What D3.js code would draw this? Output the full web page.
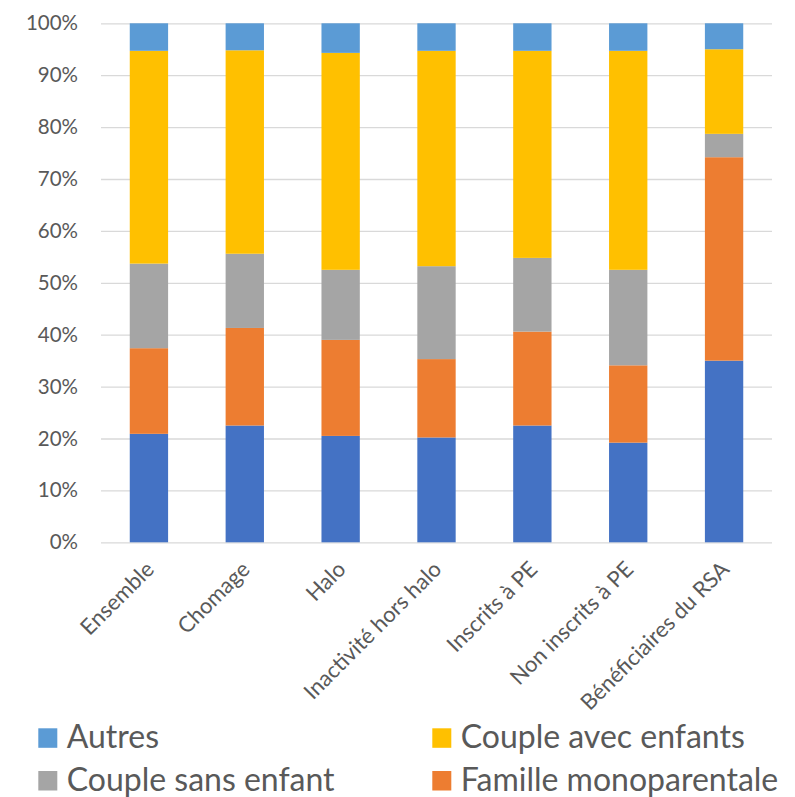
<!DOCTYPE html>
<html>
<head>
<meta charset="utf-8">
<script src="https://cdn.jsdelivr.net/npm/d3@7"></script>
<style>
  html, body { margin: 0; padding: 0; background: #fff; }
  svg { display: block; font-family: Lato, "Open Sans", sans-serif; }
</style>
</head>
<body>
<svg id="chart" width="795" height="797"></svg>
<script>
const categories = ["Ensemble", "Chomage", "Halo", "Inactivité hors halo", "Inscrits à PE", "Non inscrits à PE", "Bénéficiaires du RSA"];

// stacked bottom -> top, in %
const personneSeule = [20.9, 22.5, 20.5, 20.2, 22.5, 19.2, 35.0];
const familleMono = [16.5, 18.8, 18.5, 15.1, 18.1, 14.9, 39.2];
const coupleSansEnfant = [16.3, 14.3, 13.5, 17.9, 14.2, 18.4, 4.5];
const coupleAvecEnfants = [41.0, 39.2, 41.8, 41.5, 39.9, 42.2, 16.3];
const autres = [5.3, 5.2, 5.7, 5.3, 5.3, 5.3, 5.0];

const seriesNames = ["Personne seule", "Famille monoparentale", "Couple sans enfant", "Couple avec enfants", "Autres"];
const seriesValues = [personneSeule, familleMono, coupleSansEnfant, coupleAvecEnfants, autres];
const seriesColors = ["#4472C4", "#ED7D31", "#A5A5A5", "#FFC000", "#5B9BD5"];

const yTicks = [0, 10, 20, 30, 40, 50, 60, 70, 80, 90, 100];

// legend as shown (two columns, reading order)
const legendItems = ["Autres", "Couple avec enfants", "Couple sans enfant", "Famille monoparentale"];

const svg = d3.select("#chart");
const margin = { top: 23.3, left: 101, right: 23, bottom: 797 - 542.3 };
const width = 795 - margin.left - margin.right;
const height = 797 - margin.top - margin.bottom;

const textColor = "#595959";
const gridColor = "#D9D9D9";

const table = categories.map((c, i) => {
    const row = { cat: c };
    seriesNames.forEach((s, k) => (row[s] = seriesValues[k][i]));
    return row;
});

const stack = d3.stack().keys(seriesNames);
const stacked = stack(table);

const x = d3.scaleBand()
    .domain(categories)
    .range([margin.left, margin.left + width])
    .paddingInner(0.6)
    .paddingOuter(0.3);

const y = d3.scaleLinear()
    .domain([0, 100])
    .range([margin.top + height, margin.top]);

// grid + y labels
const yAxis = d3.axisLeft(y)
    .tickValues(yTicks)
    .tickSize(-width)
    .tickPadding(23)
    .tickFormat((d) => d + "%");

svg.append("g")
    .attr("transform", `translate(${margin.left}, 0)`)
    .call(yAxis)
    .call((g) => g.select(".domain").remove())
    .call((g) => g.selectAll(".tick line")
        .attr("stroke", gridColor)
        .attr("stroke-width", 1.3))
    .call((g) => g.selectAll(".tick text")
        .attr("fill", textColor)
        .style("font-size", "20.5px")
        .style("font-family", "Lato, sans-serif"));

// bars
svg.append("g")
    .selectAll("g")
    .data(stacked)
    .join("g")
    .attr("fill", (d, i) => seriesColors[i])
    .selectAll("rect")
    .data((d) => d)
    .join("rect")
    .attr("x", (d) => x(d.data.cat))
    .attr("width", x.bandwidth())
    .attr("y", (d) => y(d[1]))
    .attr("height", (d) => y(d[0]) - y(d[1]));

// x labels
const xAxis = d3.axisBottom(x).tickSize(0).tickPadding(0);
svg.append("g")
    .attr("transform", `translate(0, ${margin.top + height})`)
    .call(xAxis)
    .call((g) => g.select(".domain").remove())
    .call((g) => g.selectAll(".tick text")
        .attr("fill", textColor)
        .style("font-size", "22px")
        .style("font-family", "Lato, sans-serif")
        .attr("text-anchor", "end")
        .attr("y", 0)
        .attr("dy", "0.35em")
        .attr("transform", "translate(1, 23) rotate(-45)"));

// legend
const legend = svg.append("g");
const legendCols = [38.3, 432.3];
const legendRows = [728.3, 771];
legendItems.forEach((name, i) => {
    const col = i % 2;
    const row = Math.floor(i / 2);
    const color = seriesColors[seriesNames.indexOf(name)];
    const g = legend.append("g")
        .attr("transform", `translate(${legendCols[col]}, ${legendRows[row]})`);
    g.append("rect")
        .attr("width", 19)
        .attr("height", 19.5)
        .attr("fill", color);
    g.append("text")
        .attr("x", 28.4)
        .attr("y", 20)
        .attr("fill", textColor)
        .style("font-size", "32px")
        .text(name);
});
</script>
</body>
</html>
